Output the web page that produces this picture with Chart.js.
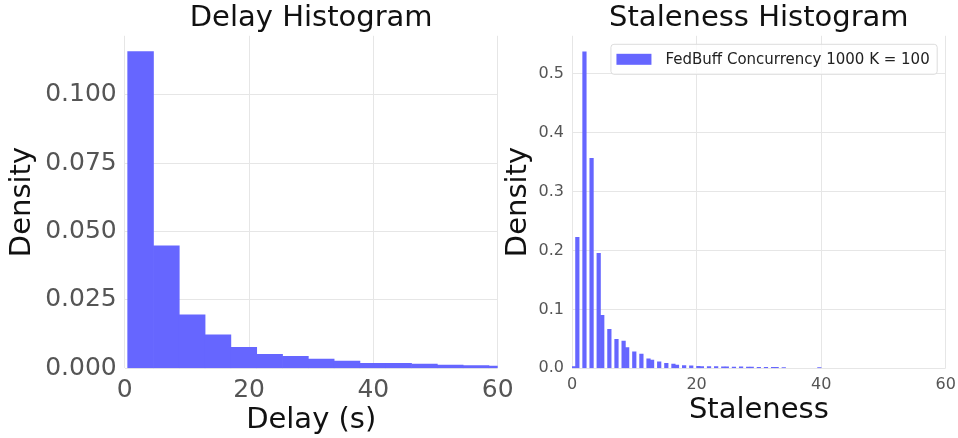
<!DOCTYPE html>
<html><head><meta charset="utf-8">
<script src="https://cdn.jsdelivr.net/npm/chart.js@4/dist/chart.umd.min.js"></script>
<style>
html,body{margin:0;padding:0;background:#fff;width:958px;height:438px;overflow:hidden;}
#c1{position:absolute;left:0;top:0;}
#c2{position:absolute;left:500px;top:0;}
</style></head><body>
<canvas id="c1" width="520" height="438"></canvas>
<canvas id="c2" width="458" height="438"></canvas>
<script>
// ---- data ----
const delayBinEdges = [0.48, 4.63, 8.78, 12.93, 17.08, 21.24, 25.39, 29.54, 33.69, 37.84, 41.99, 46.14, 50.29, 54.44, 58.59, 62.75];
const delayDensity = [0.1158, 0.0448, 0.0196, 0.0122, 0.0077, 0.0051, 0.0044, 0.0034, 0.0026, 0.0018, 0.0018, 0.0015, 0.0012, 0.0010, 0.0008];

const stalenessValues = [0,1,2,3,4,5,6,7,8,9,10,11,12,13,14,15,16,17,18,19,20,21,22,23,24,25,26,27,28,29,30,31,32,33,34,40];
const stalenessDensity = [0.003,0.222,0.537,0.356,0.195,0.090,0.066,0.049,0.046,0.035,0.028,0.024,0.016,0.014,0.011,0.0085,0.007,0.0056,0.0045,0.004,0.0035,0.003,0.003,0.0028,0.0025,0.0025,0.0022,0.0025,0.002,0.002,0.0018,0.0018,0.0015,0.0015,0.0012,0.0012];
const stalenessRange = [0, 40];
const stalenessBinCount = 70;

const xTicks = [0, 20, 40, 60];
const delayYTicks = [0, 0.025, 0.05, 0.075, 0.1];
const stalenessYTicks = [0, 0.1, 0.2, 0.3, 0.4, 0.5];

const seriesLabel = 'FedBuff Concurrency 1000 K = 100';
const titles = ['Delay Histogram', 'Staleness Histogram'];
const xTitles = ['Delay (s)', 'Staleness'];
const yTitle = 'Density';

// ---- build histogram points ----
const delayPoints = delayDensity.map((d, i) => ({ x: (delayBinEdges[i] + delayBinEdges[i + 1]) / 2, y: d }));
const binW = (stalenessRange[1] - stalenessRange[0]) / stalenessBinCount;
const stalenessPoints = stalenessValues.map((v, i) => {
  const idx = Math.min(Math.floor((v - stalenessRange[0]) / binW), stalenessBinCount - 1);
  return { x: stalenessRange[0] + (idx + 0.5) * binW, y: stalenessDensity[i] };
});

const FONT = '"DejaVu Sans", sans-serif';
const BAR = 'rgb(102,102,255)';
const GRID = '#e6e6e6';
const TICKC = '#555555';

const legendFrame = {
  id: 'legendFrame',
  afterDatasetsDraw(chart) {
    const ds = chart.data.datasets[0];
    const ctx = chart.ctx, a = chart.chartArea;
    ctx.save();
    ctx.font = '15px ' + FONT;
    const tw = ctx.measureText(ds.label).width;
    const w = 6 + 35 + 14 + tw + 7, h = 30;
    const x = a.right - 9 - w, y = a.top + 8;
    ctx.beginPath();
    ctx.roundRect(x + 0.5, y + 0.5, w, h, 3);
    ctx.fillStyle = 'rgba(255,255,255,0.8)';
    ctx.fill();
    ctx.strokeStyle = '#dcdcdc';
    ctx.lineWidth = 1;
    ctx.stroke();
    ctx.fillStyle = ds.backgroundColor;
    ctx.fillRect(x + 6, y + h / 2 - 5, 35, 11);
    ctx.fillStyle = '#222';
    ctx.textBaseline = 'middle';
    ctx.textAlign = 'left';
    ctx.fillText(ds.label, x + 6 + 35 + 14, y + h / 2 + 1);
    ctx.restore();
  }
};

function makeChart(id, cfg) {
  return new Chart(document.getElementById(id), {
    type: 'bar',
    data: { datasets: [{ label: cfg.label, data: cfg.points, backgroundColor: BAR, borderWidth: 0,
      barPercentage: 1, categoryPercentage: 1, clip: 0 }] },
    options: {
      responsive: false, animation: false, devicePixelRatio: 1,
      layout: { padding: { left: 0, right: cfg.padRight, top: 0, bottom: 0 } },
      plugins: {
        legend: { display: false },
        tooltip: { enabled: false },
        title: { display: true, text: cfg.title, fullSize: false, color: '#111',
          font: { family: FONT, size: 29, weight: 'normal' }, padding: { top: 1, bottom: 0 } }
      },
      scales: {
        x: {
          type: 'linear', min: 0, max: 60, offset: false,
          afterBuildTicks: s => { s.ticks = xTicks.map(v => ({ value: v })); },
          afterFit: s => { s.height = 69.7; s.paddingLeft = 0; s.paddingRight = 0; },
          grid: { color: GRID, drawTicks: false, lineWidth: 1, offset: false },
          border: { display: false },
          ticks: { color: TICKC, font: { family: FONT, size: cfg.tickSize }, padding: 7, maxRotation: 0 },
          title: { display: true, text: cfg.xTitle, color: '#111', font: { family: FONT, size: 29 },
            padding: { top: 0, bottom: cfg.xTitlePad } }
        },
        y: {
          type: 'linear', min: 0, max: cfg.yMax,
          afterBuildTicks: s => { s.ticks = cfg.yTicks.map(v => ({ value: v })); },
          afterFit: s => { s.width = cfg.yWidth; s.paddingTop = 0; s.paddingBottom = 0; },
          grid: { color: GRID, drawTicks: false, lineWidth: 1 },
          border: { display: false },
          ticks: { color: TICKC, font: { family: FONT, size: cfg.tickSize }, padding: 8,
            callback: v => Number(v).toFixed(cfg.decimals) },
          title: { display: true, text: yTitle, color: '#111', font: { family: FONT, size: 29 },
            padding: { top: cfg.yTitlePad, bottom: 0 } }
        }
      }
    },
    plugins: cfg.plugins || []
  });
}

makeChart('c1', { label: 'Delay', points: delayPoints, title: titles[0], xTitle: xTitles[0],
  yMax: 0.1216, yTicks: delayYTicks, decimals: 3, tickSize: 25, yWidth: 124.7, padRight: 22.3,
  xTitlePad: 0, yTitlePad: 5 });
makeChart('c2', { label: seriesLabel, points: stalenessPoints, title: titles[1], xTitle: xTitles[1],
  yMax: 0.564, yTicks: stalenessYTicks, decimals: 1, tickSize: 16, yWidth: 72, padRight: 12.3,
  xTitlePad: 10, yTitlePad: 1, plugins: [legendFrame] });
</script>
</body></html>
